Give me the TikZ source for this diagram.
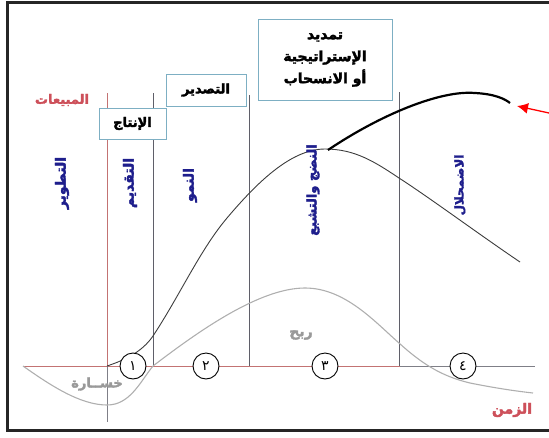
\documentclass[tikz,border=0pt]{standalone}
\usepackage{fontspec}
\usetikzlibrary{arrows.meta}
\TeXXeTstate=1
\newfontfamily\ar[Script=Arabic]{DejaVu Sans}
\newfontfamily\arb[Script=Arabic,FakeBold=2.5]{DejaVu Sans Bold}
\definecolor{boxblue}{RGB}{125,175,195}
\definecolor{lblblue}{RGB}{30,30,140}
\definecolor{lblred}{RGB}{205,80,90}
\definecolor{axred}{RGB}{195,115,115}
\definecolor{vgray}{RGB}{95,95,105}
\definecolor{salesc}{RGB}{60,60,60}
\definecolor{profc}{RGB}{175,175,175}
\tikzset{
  stagebox/.style={draw=boxblue,line width=0.9pt,fill=white,inner sep=0pt,font=\arb\fontsize{13}{15}\selectfont},
  vlabel/.style={rotate=90,text=lblblue,font=\arb\fontsize{14}{16}\selectfont,inner sep=0pt},
  axlabel/.style={text=lblred,font=\arb\fontsize{13}{15}\selectfont,inner sep=0pt},
  curvelabel/.style={text=gray!80,font=\arb\fontsize{13}{15}\selectfont,inner sep=0pt},
  numcirc/.style={circle,draw=black,line width=0.9pt,fill=white,minimum size=26pt,inner sep=0pt,font=\ar\fontsize{14}{16}\selectfont},
  divline/.style={draw=vgray,line width=0.9pt},
}
\begin{document}
\begin{tikzpicture}[x=1pt,y=-1pt]
\useasboundingbox (0,0) rectangle (549,437);
% frame
\draw[line width=3pt,draw=black!85] (549,2) -- (7,2) -- (7,430) -- (549,430);
% coordinates
\coordinate (ax0) at (23,366);
\coordinate (ax1) at (400,366);
\coordinate (ax2) at (535,366);
\coordinate (vr0) at (107,93);
\coordinate (vr1) at (107,366);
\coordinate (vr2) at (107,422);
% axis
\draw[axred,line width=0.9pt] (ax0) -- (ax1);
\draw[vgray!80,line width=0.9pt] (ax1) -- (ax2);
\draw[axred,line width=0.9pt] (vr0) -- (vr1);
\draw[vgray!80,line width=0.9pt] (vr1) -- (vr2);
% divider lines
\coordinate (d1t) at (153,93);  \coordinate (d1b) at (153,366);
\coordinate (d2t) at (249,95);  \coordinate (d2b) at (249,366);
\coordinate (d3t) at (399,92);  \coordinate (d3b) at (399,366);
\draw[divline] (d1t) -- (d1b);
\draw[divline] (d2t) -- (d2b);
\draw[divline] (d3t) -- (d3b);
% profit curve
\draw[profc,line width=1.1pt] (23,366) .. controls (50,385) and (80,405) .. (107,405)
  .. controls (130,405) and (140,382) .. (153,366)
  .. controls (200,330) and (260,288) .. (305,288)
  .. controls (345,288) and (375,322) .. (399,343)
  .. controls (420,362) and (440,376) .. (470,383)
  .. controls (495,388) and (515,391) .. (533,393);
% sales curve
\draw[salesc,line width=0.9pt] (107,366) .. controls (125,360) and (142,352) .. (153,336)
  .. controls (180,295) and (200,250) .. (227,218)
  .. controls (255,185) and (290,149) .. (325,149)
  .. controls (355,149) and (375,162) .. (399,178)
  .. controls (430,198) and (480,235) .. (520,262);
% extension curve
\draw[black,line width=2.2pt] (328,150) .. controls (380,115) and (440,90) .. (475,93)
  .. controls (495,94) and (505,99) .. (510,103);
% red arrow
\coordinate (arS) at (549,113);
\coordinate (arE) at (517,106);
\draw[red,line width=1.3pt,-{Latex[length=11pt,width=11pt]}] (arS) -- (arE);
% boxes
\node[stagebox,minimum width=67pt,minimum height=31pt] (bprod) at (132.5,123.5) {\beginR الإنتاج\endR};
\node[stagebox,minimum width=80pt,minimum height=32pt] (bexp) at (206,90) {\beginR التصدير\endR};
\node[stagebox,minimum width=134pt,minimum height=81pt,align=center,font=\arb\fontsize{14}{24}\selectfont] (bext) at (325,59.5) {\beginR تمديد\endR\\[-2pt]\beginR الإستراتيجية\endR\\[-2pt]\beginR أو الانسحاب\endR};
% vertical labels
\node[vlabel] (l1) at (62,183) {\beginR التطوير\endR};
\node[vlabel] (l2) at (130,183) {\beginR التقديم\endR};
\node[vlabel] (l3) at (190,185) {\beginR النمو\endR};
\node[vlabel,font=\arb\fontsize{13}{15}\selectfont] (l4) at (313,190) {\beginR النضج والتشبع\endR};
\node[vlabel,font=\arb\fontsize{12}{14}\selectfont] (l5) at (460,185) {\beginR الاضمحلال\endR};
% axis labels
\node[axlabel] (ysales) at (62,100) {\beginR المبيعات\endR};
\node[axlabel,font=\arb\fontsize{14}{16}\selectfont] (xtime) at (512,410) {\beginR الزمن\endR};
% curve labels
\node[curvelabel] (loss) at (97,384) {\beginR خســارة\endR};
\node[curvelabel,font=\arb\fontsize{14}{16}\selectfont] (gain) at (301,335) {\beginR ربح\endR};
% numbered circles
\node[numcirc] (c1) at (133,366) {١};
\node[numcirc] (c2) at (206,366) {٢};
\node[numcirc] (c3) at (325,366) {٣};
\node[numcirc] (c4) at (463,366) {٤};
\end{tikzpicture}
\end{document}
